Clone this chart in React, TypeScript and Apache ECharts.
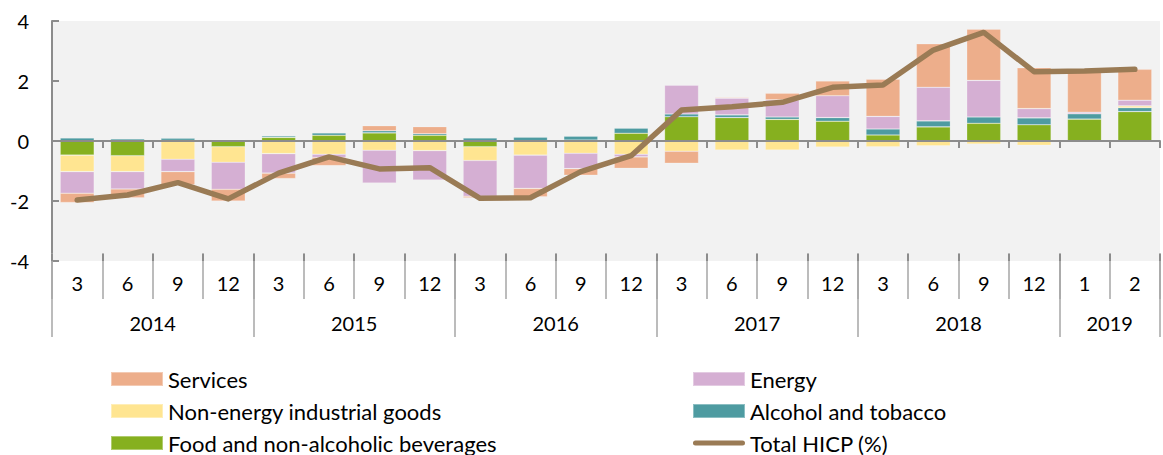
import React, { useEffect, useRef } from "react";
import * as echarts from "echarts";

const categories = [
  "2014-3", "2014-6", "2014-9", "2014-12",
  "2015-3", "2015-6", "2015-9", "2015-12",
  "2016-3", "2016-6", "2016-9", "2016-12",
  "2017-3", "2017-6", "2017-9", "2017-12",
  "2018-3", "2018-6", "2018-9", "2018-12",
  "2019-1", "2019-2",
];
const monthLabels = [
  "3", "6", "9", "12", "3", "6", "9", "12", "3", "6", "9", "12",
  "3", "6", "9", "12", "3", "6", "9", "12", "1", "2",
];
const years = ["2014", "2015", "2016", "2017", "2018", "2019"];
const yearSpans = [4, 4, 4, 4, 4, 2];

const food = [-0.47, -0.49, 0.02, -0.19, 0.12, 0.19, 0.27, 0.19, -0.19, 0.01, 0.03, 0.26, 0.81, 0.78, 0.72, 0.66, 0.2, 0.47, 0.59, 0.54, 0.73, 0.98];
const alcohol = [0.1, 0.07, 0.07, 0.04, 0.05, 0.08, 0.07, 0.05, 0.1, 0.12, 0.13, 0.17, 0.09, 0.09, 0.08, 0.12, 0.2, 0.2, 0.21, 0.23, 0.18, 0.13];
const nonEnergy = [-0.55, -0.53, -0.61, -0.52, -0.42, -0.44, -0.31, -0.32, -0.46, -0.47, -0.41, -0.44, -0.34, -0.3, -0.3, -0.2, -0.19, -0.16, -0.1, -0.14, 0, 0.06];
const energy = [-0.72, -0.58, -0.41, -0.9, -0.65, -0.11, -1.09, -0.98, -1.19, -1.11, -0.51, -0.09, 0.96, 0.56, 0.57, 0.73, 0.42, 1.12, 1.22, 0.31, 0.05, 0.19];
const services = [-0.31, -0.29, -0.44, -0.39, -0.18, -0.27, 0.17, 0.24, -0.05, -0.28, -0.22, -0.38, -0.4, 0.03, 0.22, 0.49, 1.24, 1.45, 1.71, 1.36, 1.35, 1.03];
const totalHICP = [-1.97, -1.8, -1.39, -1.93, -1.07, -0.53, -0.93, -0.89, -1.91, -1.89, -1.02, -0.49, 1.03, 1.14, 1.29, 1.79, 1.87, 3.03, 3.62, 2.31, 2.33, 2.39];

const FONT = "Lato";
const AXIS_GRAY = "#8c8c8c";
const TICK_GRAY = "#a6a6a6";
const LINE_ICON = "path://M2.5,0 H49.5 A2.5,2.5 0 0 1 49.5,5 H2.5 A2.5,2.5 0 0 1 2.5,0 Z";

export default function App() {
  const ref = useRef<HTMLDivElement>(null);

  useEffect(() => {
    document.body.style.margin = "0";
    const chart = echarts.init(ref.current!, null, { renderer: "svg" });

    // half-step year axis: 2*N+1 points, labels at span centres, ticks at boundaries
    const n = categories.length;
    const yearAxisData: string[] = new Array(2 * n + 1).fill("");
    const boundaries: number[] = [0];
    let start = 0;
    years.forEach((y, i) => {
      yearAxisData[2 * start + yearSpans[i]] = y;
      start += yearSpans[i];
      boundaries.push(2 * start);
    });

    const barCommon = {
      type: "bar",
      stack: "total",
      barWidth: 34,
      xAxisIndex: 0,
      yAxisIndex: 0,
      itemStyle: { borderColor: "rgba(255,255,255,0.35)", borderWidth: 0.6 },
    };

    const legendText = { fontSize: 22, fontFamily: FONT, color: "#000", lineHeight: 22 };
    const legendCommon = {
      top: 363,
      height: 100,
      orient: "vertical",
      itemWidth: 52,
      itemHeight: 14,
      itemGap: 10,
      selectedMode: false,
      textStyle: legendText,
    };

    chart.setOption({
      animation: false,
      grid: {
        left: 52,
        right: -4,
        top: 21,
        bottom: 194,
        show: true,
        backgroundColor: "#F2F2F2",
        borderWidth: 0,
      },
      legend: [
        {
          ...legendCommon,
          left: 105,
          data: [
            { name: "Services", icon: "rect" },
            { name: "Non-energy industrial goods", icon: "rect" },
            { name: "Food and non-alcoholic beverages", icon: "rect" },
          ],
        },
        {
          ...legendCommon,
          left: 687,
          data: [
            { name: "Energy", icon: "rect" },
            { name: "Alcohol and tobacco", icon: "rect" },
            { name: "Total HICP (%)", icon: LINE_ICON },
          ],
        },
      ],
      xAxis: [
        {
          type: "category",
          data: categories,
          position: "bottom",
          axisLine: { onZero: true, lineStyle: { color: AXIS_GRAY, width: 2 } },
          axisTick: { show: true, inside: false, length: 7, interval: 0, lineStyle: { color: AXIS_GRAY, width: 2 } },
          axisLabel: { show: false },
          splitLine: { show: false },
          z: 5,
        },
        {
          type: "category",
          data: categories,
          position: "bottom",
          axisLine: { show: false, onZero: true },
          axisTick: { show: true, inside: true, length: 7, interval: 0, lineStyle: { color: AXIS_GRAY, width: 2 } },
          axisLabel: { show: false },
          splitLine: { show: false },
          z: 5,
        },
        {
          type: "category",
          data: monthLabels,
          position: "bottom",
          axisLine: { show: false, onZero: false },
          axisTick: { show: true, inside: false, length: 38, interval: 0, lineStyle: { color: TICK_GRAY, width: 1.5 } },
          axisLabel: { show: true, interval: 0, margin: 12, fontSize: 20, fontFamily: FONT, color: "#000" },
          splitLine: { show: false },
        },
        {
          type: "category",
          data: monthLabels,
          position: "bottom",
          axisLine: { show: false, onZero: false },
          axisTick: { show: true, inside: true, length: 8, interval: 0, lineStyle: { color: TICK_GRAY, width: 1.5 } },
          axisLabel: { show: false },
          splitLine: { show: false },
        },
        {
          type: "category",
          data: yearAxisData,
          boundaryGap: false,
          position: "bottom",
          axisLine: { show: false, onZero: false },
          axisTick: {
            show: true,
            inside: false,
            length: 76,
            interval: (index: number) => boundaries.indexOf(index) >= 0,
            lineStyle: { color: TICK_GRAY, width: 1.5 },
          },
          axisLabel: { show: true, interval: 0, margin: 52, fontSize: 20, fontFamily: FONT, color: "#000" },
          splitLine: { show: false },
        },
      ],
      yAxis: [
        {
          type: "value",
          min: -4,
          max: 4,
          interval: 2,
          axisLine: { show: true, lineStyle: { color: AXIS_GRAY, width: 2 } },
          axisTick: { show: true, inside: true, length: 7, lineStyle: { color: AXIS_GRAY, width: 2 } },
          axisLabel: { margin: 23, fontSize: 20, fontFamily: FONT, color: "#000" },
          splitLine: { show: false },
        },
      ],
      series: [
        { ...barCommon, name: "Food and non-alcoholic beverages", data: food, itemStyle: { ...barCommon.itemStyle, color: "#86B01F" } },
        { ...barCommon, name: "Alcohol and tobacco", data: alcohol, itemStyle: { ...barCommon.itemStyle, color: "#4E9BA1" } },
        { ...barCommon, name: "Non-energy industrial goods", data: nonEnergy, itemStyle: { ...barCommon.itemStyle, color: "#FFE591" } },
        { ...barCommon, name: "Energy", data: energy, itemStyle: { ...barCommon.itemStyle, color: "#D5AFD3" } },
        { ...barCommon, name: "Services", data: services, itemStyle: { ...barCommon.itemStyle, color: "#EDAE8B" } },
        {
          type: "line",
          name: "Total HICP (%)",
          data: totalHICP,
          xAxisIndex: 0,
          yAxisIndex: 0,
          symbol: "none",
          z: 10,
          itemStyle: { color: "#9A7B55" },
          lineStyle: { color: "#9A7B55", width: 5.5, cap: "round", join: "round" },
        },
      ],
    });

    return () => chart.dispose();
  }, []);

  return <div ref={ref} style={{ width: 1163, height: 455 }} />;
}
